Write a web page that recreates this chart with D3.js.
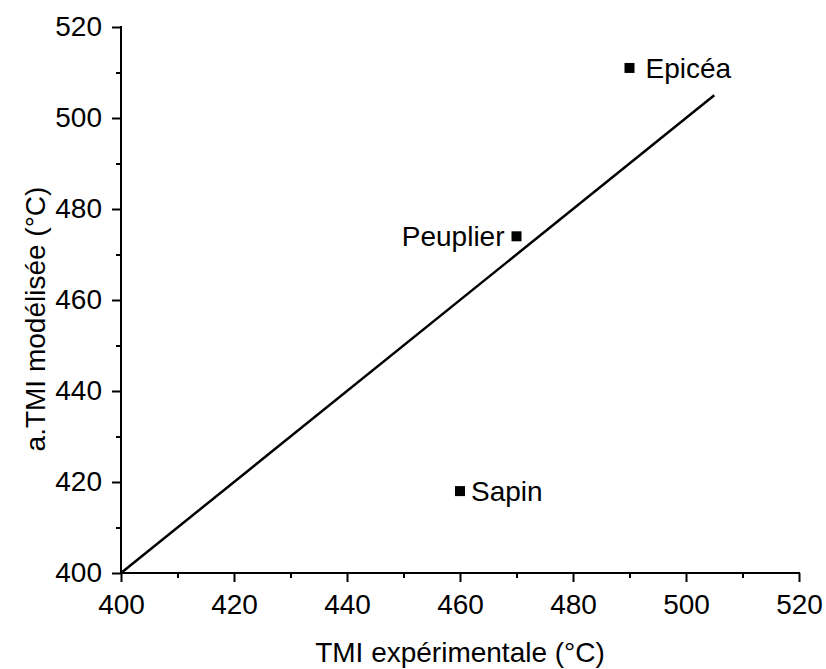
<!DOCTYPE html>
<html>
<head>
<meta charset="utf-8">
<script src="https://cdn.jsdelivr.net/npm/d3@7"></script>
<style>
  html, body { margin: 0; padding: 0; background: #fff; }
  svg text { font-family: "Liberation Sans", Arial, sans-serif; fill: #000; }
</style>
</head>
<body>
<svg id="chart" width="826" height="669"></svg>
<script>
// ---- data ----
const species = ["Epicéa", "Peuplier", "Sapin"];
const tmiExp = [490, 470, 460];
const tmiMod = [511, 474, 418];
const lineX = [400, 505];
const lineY = [400, 505];
const xTicks = [400, 420, 440, 460, 480, 500, 520];
const yTicks = [400, 420, 440, 460, 480, 500, 520];
const xTitle = "TMI expérimentale (°C)";
const yTitle = "a.TMI modélisée (°C)";

// ---- layout ----
const svg = d3.select("#chart");
const x = d3.scaleLinear().domain([400, 520]).range([121, 799]);
const y = d3.scaleLinear().domain([400, 520]).range([573, 27]);
const fs = 28;

// minor ticks
const xMinor = d3.range(410, 520, 20);
const yMinor = d3.range(410, 520, 20);

const xAxis = svg.append("g").attr("transform", `translate(0,${y(400)})`)
  .call(d3.axisBottom(x).tickValues(xTicks).tickSize(9).tickPadding(12).tickFormat(d3.format("d")));
xAxis.append("g").call(d3.axisBottom(x).tickValues(xMinor).tickSize(5).tickFormat(""))
  .select(".domain").remove();

const yAxis = svg.append("g").attr("transform", `translate(${x(400)},0)`)
  .call(d3.axisLeft(y).tickValues(yTicks).tickSize(9).tickPadding(10).tickFormat(d3.format("d")));
yAxis.append("g").call(d3.axisLeft(y).tickValues(yMinor).tickSize(5).tickFormat(""))
  .select(".domain").remove();

svg.selectAll(".domain").attr("stroke", "#000").attr("stroke-width", 2);
svg.selectAll(".tick line").attr("stroke", "#000").attr("stroke-width", 2);
svg.selectAll(".tick text").style("font-size", fs + "px")
  .style("font-family", '"Liberation Sans", Arial, sans-serif').attr("fill", "#000");
xAxis.select(".domain").attr("d", `M${x(400) - 1},0H${x(520) + 1}`);
yAxis.select(".domain").attr("d", `M0,${y(400) + 1}V${y(520) - 1}`);

// identity line
svg.append("line")
  .attr("x1", x(lineX[0])).attr("y1", y(lineY[0]))
  .attr("x2", x(lineX[1])).attr("y2", y(lineY[1]))
  .attr("stroke", "#000").attr("stroke-width", 2.5);

// markers
const pts = species.map((s, i) => ({ name: s, x: tmiExp[i], y: tmiMod[i] }));
const ms = 10;
svg.selectAll("rect.pt").data(pts).enter().append("rect")
  .attr("class", "pt")
  .attr("x", d => x(d.x) - ms / 2).attr("y", d => y(d.y) - ms / 2)
  .attr("width", ms).attr("height", ms).attr("fill", "#000");

// labels
const labelPlace = { "Epicéa": { dx: 16, anchor: "start" }, "Peuplier": { dx: -12, anchor: "end" }, "Sapin": { dx: 11, anchor: "start" } };
svg.selectAll("text.lbl").data(pts).enter().append("text")
  .attr("class", "lbl")
  .attr("x", d => x(d.x) + labelPlace[d.name].dx)
  .attr("y", d => y(d.y) + 10)
  .attr("text-anchor", d => labelPlace[d.name].anchor)
  .style("font-size", fs + "px")
  .text(d => d.name);

// axis titles
svg.append("text")
  .attr("x", (x(400) + x(520)) / 2).attr("y", 662)
  .attr("text-anchor", "middle").style("font-size", fs + "px")
  .text(xTitle);
svg.append("text")
  .attr("transform", `translate(45,319) rotate(-90)`)
  .attr("text-anchor", "middle").style("font-size", fs + "px")
  .text(yTitle);
</script>
</body>
</html>
